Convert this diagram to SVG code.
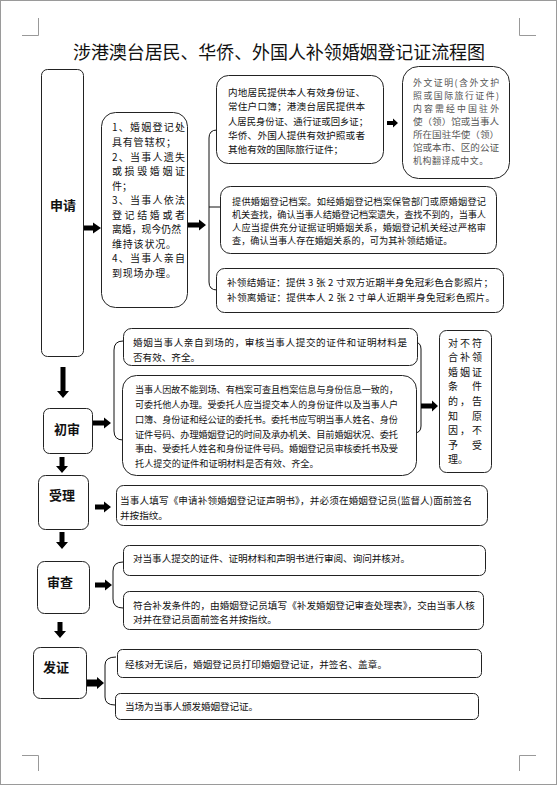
<svg xmlns="http://www.w3.org/2000/svg" width="557" height="785" viewBox="0 0 557 785">
<style>
text{font-family:"Noto Sans CJK SC","Noto Sans",sans-serif;fill:#111}
.t{font-size:9.6px}
.s{font-size:9.2px}
.c{font-size:10px}
.f{font-size:8.9px}
.lbl{font-size:13px;font-weight:700;text-anchor:middle}
.mid{text-anchor:middle;font-size:10px}
.box{fill:#fff;stroke:#222;stroke-width:1}
.br{fill:none;stroke:#111;stroke-width:1}
.ar{fill:#000}
.mark{fill:none;stroke:#999;stroke-width:1}
.g{fill:#555}
</style>
<rect x="0.5" y="0.5" width="556" height="784" fill="#fff" stroke="#9a9a9a"/>
<g id="marks" class="mark">
<path d="M22,35.5 H38.5 V18"/>
<path d="M519.5,18 V35.5 H536"/>
<path d="M22,755.5 H38.5 V771"/>
<path d="M519.5,771 V755.5 H536"/>
</g>
<text id="title" x="73" y="59" font-size="18" textLength="412" lengthAdjust="spacing">涉港澳台居民、华侨、外国人补领婚姻登记证流程图</text>

<g id="connectors">
<path class="br" d="M217,130 Q209,130 209,138 V282 Q209,290 217,290 M209,207 H220"/>
<path class="br" d="M123,341 Q114,341 114,350 V431 Q114,440 123,440"/>
<path class="br" d="M414,342 Q421,342 421,349 V426 Q421,433 414,433"/>
<path class="br" d="M123,562 Q113,562 113,571 V599 Q113,608 123,608"/>
<path class="br" d="M116,657 Q105,657 105,665 V697 Q105,705 115,705"/>
<polygon class="ar" points="84,225.5 93,225.5 93,222.5 101,228 93,233.5 93,230.5 84,230.5"/>
<polygon class="ar" points="188,222.5 199,222.5 199,219.5 206,225 199,230.5 199,227.5 188,227.5"/>
<polygon class="ar" points="387,121 393,121 393,118.5 398,123 393,127.5 393,125 387,125"/>
<polygon class="ar" points="93,420.5 104,420.5 104,417.5 111,423 104,428.5 104,425.5 93,425.5"/>
<polygon class="ar" points="421,403.5 432,403.5 432,400.5 438,406 432,411.5 432,408.5 421,408.5"/>
<polygon class="ar" points="95,504.5 104,504.5 104,501.5 111,507 104,512.5 104,509.5 95,509.5"/>
<polygon class="ar" points="95,582.5 105,582.5 105,579.5 112,585 105,590.5 105,587.5 95,587.5"/>
<polygon class="ar" points="87,679.5 97,679.5 97,677 104,683 97,689 97,686.5 87,686.5"/>
<polygon class="ar" points="60.5,367 65.5,367 65.5,391 69,391 63,398 57,391 60.5,391"/>
<polygon class="ar" points="59.5,457 64.5,457 64.5,466 68,466 62,473 56,466 59.5,466"/>
<polygon class="ar" points="59.5,532 64.5,532 64.5,542 68,542 62,549 56,542 59.5,542"/>
<polygon class="ar" points="57.5,622 62.5,622 62.5,631 66,631 60,638 54,631 57.5,631"/>
</g>

<g id="n-apply">
<rect class="box" x="41.5" y="69.5" width="42" height="287" rx="6"/>
<text class="lbl" x="63" y="210">申请</text>
</g>

<g id="n-conditions">
<rect class="box" x="101.5" y="112.5" width="86" height="195" rx="14"/>
<text class="c" x="112" y="131" textLength="73" lengthAdjust="spacing">1、婚姻登记处</text>
<text class="c" x="112" y="145.5" letter-spacing="0.8">具有管辖权；</text>
<text class="c" x="112" y="160.5" textLength="73" lengthAdjust="spacing">2、当事人遗失</text>
<text class="c" x="112" y="175" textLength="73" lengthAdjust="spacing">或损毁婚姻证</text>
<text class="c" x="112" y="189.5">件；</text>
<text class="c" x="112" y="204" textLength="73" lengthAdjust="spacing">3、当事人依法</text>
<text class="c" x="112" y="218.5" textLength="73" lengthAdjust="spacing">登记结婚或者</text>
<text class="c" x="112" y="233" textLength="69" lengthAdjust="spacingAndGlyphs">离婚，现今仍然</text>
<text class="c" x="112" y="247.5" letter-spacing="0.8">维持该状况。</text>
<text class="c" x="112" y="262" textLength="73" lengthAdjust="spacing">4、当事人亲自</text>
<text class="c" x="112" y="276.5" letter-spacing="0.8">到现场办理。</text>
</g>

<g id="n-id">
<rect class="box" x="216.5" y="75.5" width="167" height="88" rx="12"/>
<text class="t" x="228" y="95.5" textLength="137" lengthAdjust="spacing">内地居民提供本人有效身份证、</text>
<text class="t" x="228" y="110" textLength="137" lengthAdjust="spacing">常住户口簿；港澳台居民提供本</text>
<text class="t" x="228" y="124.5" textLength="140" lengthAdjust="spacingAndGlyphs">人居民身份证、通行证或回乡证；</text>
<text class="t" x="228" y="138.5" textLength="137" lengthAdjust="spacing">华侨、外国人提供有效护照或者</text>
<text class="t" x="228" y="152.5">其他有效的国际旅行证件；</text>
</g>

<g id="n-foreign">
<rect class="box" x="402.5" y="66.5" width="107" height="112" rx="16"/>
<text class="f g" x="413" y="86" textLength="86" lengthAdjust="spacing">外文证明(含外文护</text>
<text class="f g" x="413" y="99" textLength="86" lengthAdjust="spacing">照或国际旅行证件)</text>
<text class="f g" x="413" y="112" textLength="86" lengthAdjust="spacing">内容需经中国驻外</text>
<text class="f g" x="413" y="125" textLength="86" lengthAdjust="spacingAndGlyphs">使（领）馆或当事人</text>
<text class="f g" x="413" y="138" textLength="86" lengthAdjust="spacingAndGlyphs">所在国驻华使（领）</text>
<text class="f g" x="413" y="151" textLength="86" lengthAdjust="spacingAndGlyphs">馆或本市、区的公证</text>
<text class="f g" x="413" y="164" letter-spacing="0.6">机构翻译成中文。</text>
</g>

<g id="n-archive">
<rect class="box" x="220.5" y="186.5" width="276" height="67" rx="10"/>
<text class="s" x="232" y="205.3" textLength="254" lengthAdjust="spacing">提供婚姻登记档案。如经婚姻登记档案保管部门或原婚姻登记</text>
<text class="s" x="232" y="218.3" textLength="254" lengthAdjust="spacing">机关查找，确认当事人结婚登记档案遗失，查找不到的，当事人</text>
<text class="s" x="232" y="231.3" textLength="254" lengthAdjust="spacing">人应当提供充分证据证明婚姻关系，婚姻登记机关经过严格审</text>
<text class="s" x="232" y="244.3">查，确认当事人存在婚姻关系的，可为其补领结婚证。</text>
</g>

<g id="n-photo">
<rect class="box" x="216.5" y="268.5" width="287" height="44" rx="8"/>
<text class="t" x="227" y="285.5" textLength="266" lengthAdjust="spacing">补领结婚证：提供 3 张 2 寸双方近期半身免冠彩色合影照片；</text>
<text class="t" x="227" y="300.5" textLength="268" lengthAdjust="spacing">补领离婚证：提供本人 2 张 2 寸单人近期半身免冠彩色照片。</text>
</g>

<g id="n-first">
<rect class="box" x="43.5" y="408.5" width="49" height="45" rx="6"/>
<text class="lbl" x="67" y="434">初审</text>
</g>

<g id="n-inperson">
<rect class="box" x="123.5" y="328.5" width="294" height="37" rx="8"/>
<text class="t" x="133" y="345.5" textLength="274" lengthAdjust="spacing">婚姻当事人亲自到场的，审核当事人提交的证件和证明材料是</text>
<text class="t" x="133" y="360.5">否有效、齐全。</text>
</g>

<g id="n-proxy">
<rect class="box" x="122.5" y="375.5" width="294" height="100" rx="14"/>
<text class="s" x="135" y="392.5" textLength="263" lengthAdjust="spacingAndGlyphs">当事人因故不能到场、有档案可查且档案信息与身份信息一致的，</text>
<text class="s" x="135" y="407.5" textLength="263" lengthAdjust="spacingAndGlyphs">可委托他人办理。受委托人应当提交本人的身份证件以及当事人户</text>
<text class="s" x="135" y="422.5" textLength="263" lengthAdjust="spacing">口簿、身份证和经公证的委托书。委托书应写明当事人姓名、身份</text>
<text class="s" x="135" y="437.5" textLength="263" lengthAdjust="spacing">证件号码、办理婚姻登记的时间及承办机关、目前婚姻状况、委托</text>
<text class="s" x="135" y="452" textLength="263" lengthAdjust="spacing">事由、受委托人姓名和身份证件号码。婚姻登记员审核委托书及受</text>
<text class="s" x="135" y="466.5">托人提交的证件和证明材料是否有效、齐全。</text>
</g>

<g id="n-reject">
<rect class="box" x="439.5" y="330.5" width="52" height="142" rx="7"/>
<text class="mid" y="346.5"><tspan x="453">对</tspan><tspan x="465">不</tspan><tspan x="477">符</tspan></text>
<text class="mid" y="361.1"><tspan x="453">合</tspan><tspan x="465">补</tspan><tspan x="477">领</tspan></text>
<text class="mid" y="375.7"><tspan x="453">婚</tspan><tspan x="465">姻</tspan><tspan x="477">证</tspan></text>
<text class="mid" y="390.3"><tspan x="453">条</tspan><tspan x="477">件</tspan></text>
<text class="mid" y="404.9"><tspan x="453">的</tspan><tspan x="465">，</tspan><tspan x="477">告</tspan></text>
<text class="mid" y="419.5"><tspan x="453">知</tspan><tspan x="477">原</tspan></text>
<text class="mid" y="434.1"><tspan x="453">因</tspan><tspan x="465">，</tspan><tspan x="477">不</tspan></text>
<text class="mid" y="448.7"><tspan x="453">予</tspan><tspan x="477">受</tspan></text>
<text class="mid" y="463.3"><tspan x="453">理</tspan><tspan x="463">。</tspan></text>
</g>

<g id="n-accept">
<rect class="box" x="38.5" y="475.5" width="50" height="54" rx="7"/>
<text class="lbl" x="62" y="500">受理</text>
</g>

<g id="n-declare">
<rect class="box" x="116.5" y="485.5" width="371" height="40" rx="7"/>
<text class="t" x="120" y="503.5" textLength="352" lengthAdjust="spacing">当事人填写《申请补领婚姻登记证声明书》，并必须在婚姻登记员(监督人)面前签名</text>
<text class="t" x="120" y="518.5">并按指纹。</text>
</g>

<g id="n-review">
<rect class="box" x="37.5" y="561.5" width="52" height="52" rx="7"/>
<text class="lbl" x="60" y="587">审查</text>
</g>

<g id="n-check">
<rect class="box" x="123.5" y="545.5" width="362" height="30" rx="6"/>
<text class="t" x="133" y="561.5" textLength="277" lengthAdjust="spacing">对当事人提交的证件、证明材料和声明书进行审阅、询问并核对。</text>
</g>

<g id="n-form">
<rect class="box" x="123.5" y="591.5" width="360" height="38" rx="6"/>
<text class="t" x="133" y="608.5" textLength="342" lengthAdjust="spacingAndGlyphs">符合补发条件的，由婚姻登记员填写《补发婚姻登记审查处理表》，交由当事人核</text>
<text class="t" x="133" y="622.5">对并在登记员面前签名并按指纹。</text>
</g>

<g id="n-issue">
<rect class="box" x="33.5" y="647.5" width="53" height="51" rx="7"/>
<text class="lbl" x="56" y="672">发证</text>
</g>

<g id="n-print">
<rect class="box" x="117.5" y="649.5" width="364" height="28" rx="5"/>
<text class="t" x="125" y="667.5" textLength="262" lengthAdjust="spacing">经核对无误后，婚姻登记员打印婚姻登记证，并签名、盖章。</text>
</g>

<g id="n-hand">
<rect class="box" x="115.5" y="693.5" width="363" height="26" rx="5"/>
<text class="t" x="125" y="709.5" textLength="133" lengthAdjust="spacing">当场为当事人颁发婚姻登记证。</text>
</g>
</svg>
